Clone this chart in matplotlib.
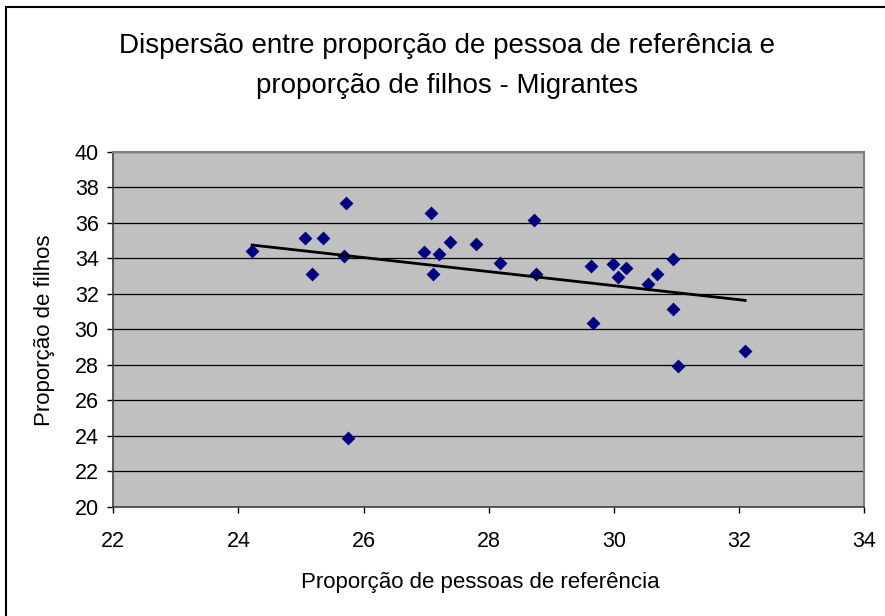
import numpy as np
import matplotlib
matplotlib.use("Agg")
import matplotlib.pyplot as plt
from matplotlib.patches import Rectangle

plt.rcParams['font.family'] = ['Liberation Sans', 'DejaVu Sans']

# proporção de pessoas de referência (x) e proporção de filhos (y)
prop_ref = [24.22, 25.07, 25.35, 25.72, 25.69, 25.18, 25.75, 27.08, 26.97,
            27.20, 27.11, 27.39, 27.79, 28.18, 28.72, 28.76, 29.64, 29.67,
            29.98, 30.06, 30.20, 30.55, 30.69, 30.94, 30.94, 31.03, 32.10]
prop_filhos = [34.42, 35.12, 35.12, 37.13, 34.12, 33.13, 23.89, 36.53, 34.33,
               34.22, 33.13, 34.93, 34.82, 33.74, 36.13, 33.13, 33.54, 30.35,
               33.65, 32.94, 33.43, 32.56, 33.13, 33.95, 31.14, 27.94, 28.75]

x_ticks = list(range(22, 36, 2))
y_ticks = list(range(20, 42, 2))

title_lines = ["Dispersão entre proporção de pessoa de referência e",
               "proporção de filhos - Migrantes"]
xlabel = "Proporção de pessoas de referência"
ylabel = "Proporção de filhos"

fig = plt.figure(figsize=(8.85, 6.16), dpi=100)
fig.patch.set_facecolor('white')

# outer chart frame (right/bottom edges fall outside the picture)
fig.patches.append(Rectangle((6 / 885, -0.05), 1.2, 1 - 7 / 616 + 0.05,
                             transform=fig.transFigure, fill=False,
                             edgecolor='black', lw=1.5))

ax = fig.add_axes([113.3 / 885, 1 - 506.7 / 616, (864 - 113.3) / 885,
                   (506.7 - 151.7) / 616])
ax.set_facecolor('#C0C0C0')
ax.set_xlim(22, 34)
ax.set_ylim(20, 40)
ax.set_xticks(x_ticks)
ax.set_yticks(y_ticks)
ax.yaxis.grid(True, color='black', lw=0.9)
ax.set_axisbelow(True)
ax.tick_params(direction='out', length=4.5, width=1, colors='black',
               labelsize=15.5, pad=6)
ax.tick_params(axis='x', pad=13)
for side in ('top', 'right'):
    ax.spines[side].set_color('#808080')
    ax.spines[side].set_linewidth(1.5)
for side in ('left', 'bottom'):
    ax.spines[side].set_color('#404040')
    ax.spines[side].set_linewidth(1.2)

ax.scatter(prop_ref, prop_filhos, marker='D', s=50, color='#000080', zorder=3,
           linewidths=0)

# linear trend line
coef = np.polyfit(prop_ref, prop_filhos, 1)
xs = np.array([min(prop_ref), max(prop_ref)])
ax.plot(xs, np.polyval(coef, xs), color='black', lw=2, zorder=4)

fig.text(447 / 885, 1 - 53 / 616, title_lines[0], ha='center', va='baseline',
         fontsize=20)
fig.text(447 / 885, 1 - 93 / 616, title_lines[1], ha='center', va='baseline',
         fontsize=20)
fig.text(480 / 885, 1 - 588 / 616, xlabel, ha='center', va='baseline',
         fontsize=16)
fig.text(45 / 885, 1 - 330 / 616, ylabel, ha='center', va='center',
         fontsize=16, rotation=90)

fig.savefig('out.png', dpi=100)
